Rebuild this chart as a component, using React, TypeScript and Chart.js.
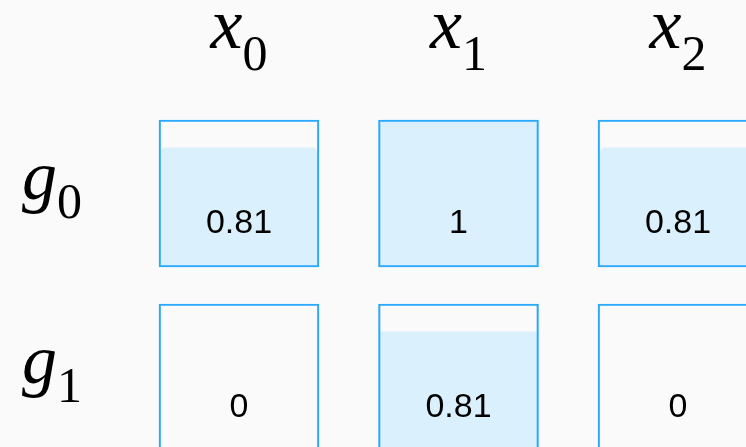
import React, { useEffect, useRef } from 'react';
import { Chart, registerables } from 'chart.js';

Chart.register(...registerables);

const colLabels = ['x_0', 'x_1', 'x_2'];
const rowLabels = ['g_0', 'g_1'];
const rowG0 = [0.81, 1, 0.81];
const rowG1 = [0, 0.81, 0];
const rows = [rowG0, rowG1];

const ROW_STEP = 184 / 147;
const BORDER = '#2aa8fb';
const FILL = '#daf1fd';

function drawSub(ctx: CanvasRenderingContext2D, label: string, x: number, y: number, align: 'center' | 'left', mainSize: number, subSize: number, subDrop: number) {
  const [base, sub] = label.split('_');
  const mainFont = `italic ${mainSize}px "Liberation Serif", "Times New Roman", serif`;
  const subFont = `${subSize}px "Liberation Serif", "Times New Roman", serif`;
  ctx.font = mainFont;
  const wMain = ctx.measureText(base).width;
  ctx.font = subFont;
  const wSub = ctx.measureText(sub).width;
  const total = wMain + wSub;
  const left = align === 'center' ? x - total / 2 : x;
  ctx.textAlign = 'left';
  ctx.textBaseline = 'alphabetic';
  ctx.font = mainFont;
  ctx.fillText(base, left, y);
  ctx.font = subFont;
  ctx.fillText(sub, left + wMain, y + subDrop);
}

const labelsPlugin = {
  id: 'cellLabels',
  afterDatasetsDraw(chart: any) {
    const ctx: CanvasRenderingContext2D = chart.ctx;
    const xs = chart.scales.x;
    const ys = chart.scales.y;
    ctx.save();
    ctx.fillStyle = '#000';
    rows.forEach((vals, r) => {
      const base = -r * ROW_STEP;
      const top = ys.getPixelForValue(base + 1);
      const bot = ys.getPixelForValue(base);
      ctx.font = '34px "Liberation Sans", Arial, Helvetica, sans-serif';
      ctx.textAlign = 'center';
      ctx.textBaseline = 'alphabetic';
      vals.forEach((v, c) => {
        ctx.fillText(String(v), xs.getPixelForValue(c), top + 0.769 * (bot - top));
      });
      const firstLeft = xs.getPixelForValue(0) - 80;
      drawSub(ctx, rowLabels[r], firstLeft - 137, top + 79, 'left', 70, 50, 19);
    });
    const top0 = ys.getPixelForValue(1);
    colLabels.forEach((lab, c) => {
      drawSub(ctx, lab, xs.getPixelForValue(c), top0 - 72, 'center', 72, 50, 22);
    });
    ctx.restore();
  },
};

export default function App() {
  const ref = useRef<HTMLCanvasElement | null>(null);
  useEffect(() => {
    if (!ref.current) return;
    const boxData: any[] = [];
    const fillData: any[] = [];
    rows.forEach((vals, r) => {
      const base = -r * ROW_STEP;
      vals.forEach((v, c) => {
        boxData.push({ x: c, y: [base, base + 1] });
        fillData.push({ x: c, y: [base, base + v] });
      });
    });
    const chart = new Chart(ref.current, {
      type: 'bar',
      data: {
        datasets: [
          {
            label: 'box',
            data: boxData,
            backgroundColor: 'rgba(0,0,0,0)',
            borderColor: BORDER,
            borderWidth: 1.5,
            borderSkipped: false,
            barThickness: 160,
            grouped: false,
            order: 0,
          } as any,
          {
            label: 'value',
            data: fillData,
            backgroundColor: FILL,
            borderWidth: 0,
            borderSkipped: 'bottom',
            borderRadius: { topLeft: 5, topRight: 5, bottomLeft: 0, bottomRight: 0 },
            barThickness: 156,
            grouped: false,
            order: 1,
          } as any,
        ],
      },
      options: {
        responsive: false,
        maintainAspectRatio: false,
        animation: false,
        layout: { padding: 0 },
        scales: {
          x: { type: 'linear', display: false, offset: false, min: -1.08884, max: 2.30979 },
          y: { type: 'linear', display: false, offset: false, min: -1.2245, max: 1.8163 },
        },
        plugins: { legend: { display: false }, tooltip: { enabled: false } },
      },
      plugins: [labelsPlugin],
    } as any);
    return () => chart.destroy();
  }, []);
  return (
    <div style={{ position: 'fixed', left: 0, top: 0, width: 746, height: 447, background: '#fafafa', overflow: 'hidden' }}>
      <canvas ref={ref} width={746} height={447} style={{ display: 'block' }} />
    </div>
  );
}
